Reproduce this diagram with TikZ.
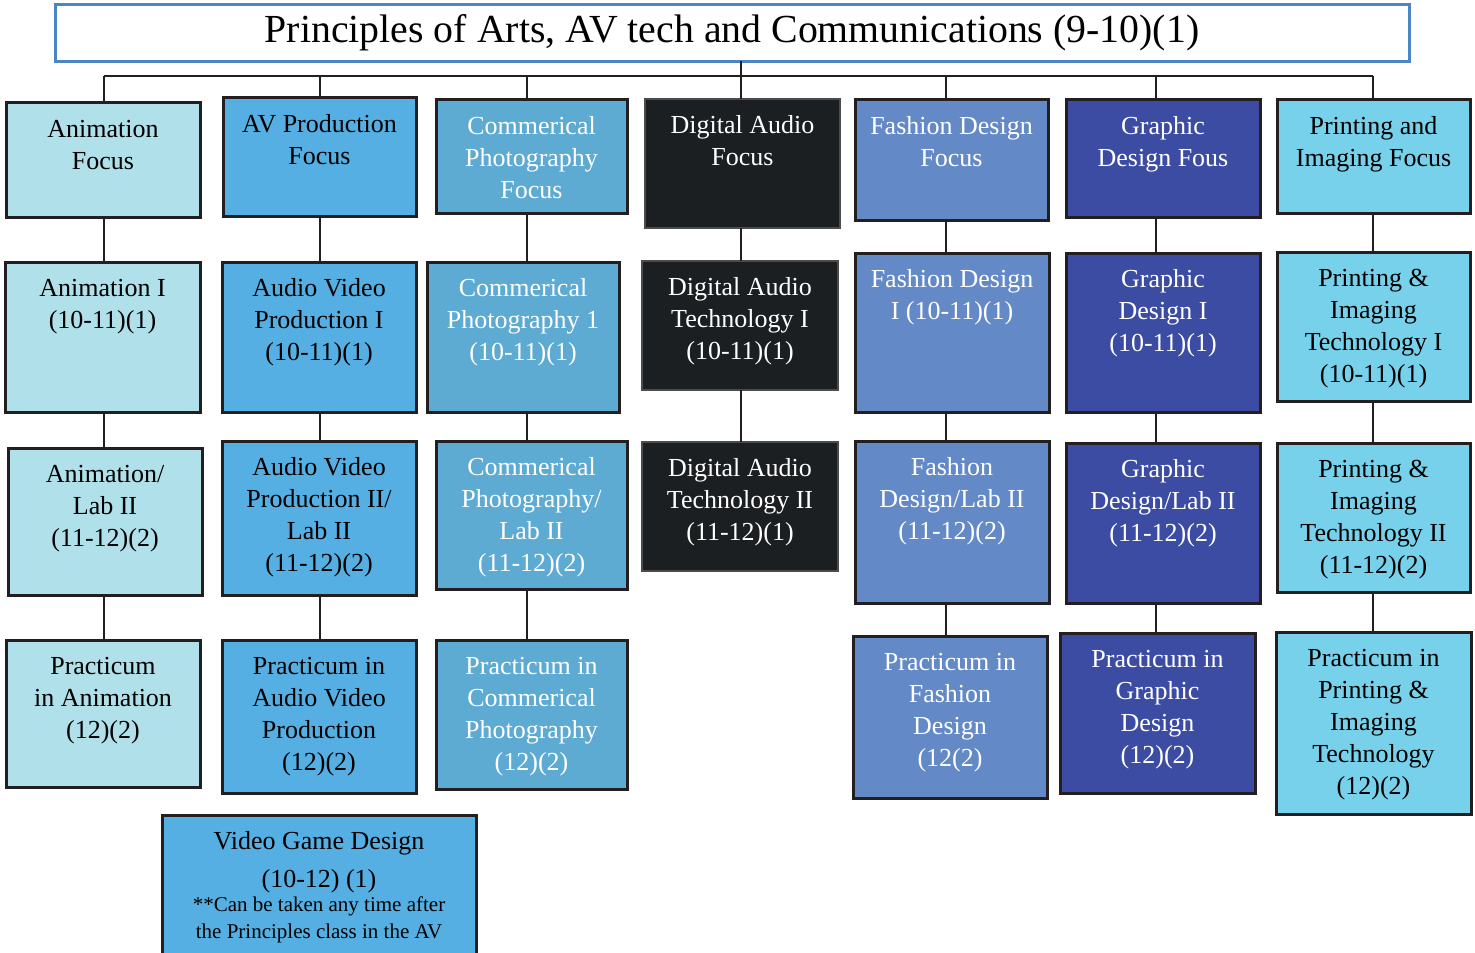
\documentclass[tikz,border=0pt]{standalone}
\usepackage{fontspec}
\setmainfont{Liberation Serif}
\definecolor{cAnim}{HTML}{B0E0EA}
\definecolor{cAV}{HTML}{55AFE2}
\definecolor{cCom}{HTML}{5DAAD3}
\definecolor{cDig}{HTML}{1B1F21}
\definecolor{cFas}{HTML}{6389C6}
\definecolor{cGra}{HTML}{3C4CA3}
\definecolor{cPri}{HTML}{77D1EB}
\definecolor{cLine}{HTML}{231F20}
\definecolor{cTitle}{HTML}{4A86C6}
\newcommand\cbox[8]{%
  \pgfmathsetmacro\myBW{(#4-#2)*0.5}%
  \pgfmathsetmacro\myBH{(#5-#3)*0.5}%
  \node[boxst, #6, minimum width=\myBW pt, minimum height=\myBH pt] (#1) at ({(#2+#4)/2},{(#3+#5)/2}) {};%
  \node[txtst, text=#7] (#1t) at ([yshift=-6pt]#1.north) {\strut #8};%
}
\begin{document}
\begin{tikzpicture}[x=0.5pt,y=-0.5pt,
  boxst/.style={draw=cLine, line width=1.5pt, inner sep=0pt, outer sep=0pt},
  txtst/.style={anchor=north, align=center, inner sep=0pt, font=\fontsize{13}{16}\selectfont},
  conn/.style={draw=cLine, line width=1.4pt},
  digst/.style={fill=cDig, draw=gray!60!black, line width=0.6pt}]
\clip (0,0) rectangle (1475,952);
\fill[white] (0,0) rectangle (1475,952);

% column coordinates
\coordinate (k1) at (104,0);
\coordinate (k2) at (320,0);
\coordinate (k3) at (527,0);
\coordinate (k4) at (741,0);
\coordinate (k5) at (946,0);
\coordinate (k6) at (1156,0);
\coordinate (k7) at (1373,0);
\coordinate (busL) at (104,76);
\coordinate (busR) at (1373,76);

% title
\node[draw=cTitle, line width=1.5pt, fill=white, inner sep=0pt, outer sep=0pt,
      minimum width=677pt, minimum height=28.5pt,
      font=\fontsize{19.9}{23}\selectfont] (title) at (732,33)
      {\raisebox{-1pt}{Principles of Arts, AV tech and Communications (9-10)(1)}};

% column 1
\cbox{af}{6}{103}{200}{217}{fill=cAnim}{black}{Animation\\Focus}
\cbox{aa}{5}{262}{200}{412}{fill=cAnim}{black}{Animation I\\(10-11)(1)}
\cbox{ab}{8}{448}{202}{595}{fill=cAnim}{black}{Animation/\\Lab II\\(11-12)(2)}
\cbox{ap}{6}{640}{200}{787}{fill=cAnim}{black}{Practicum\\in Animation\\(12)(2)}
% column 2
\cbox{vf}{223}{98}{416}{216}{fill=cAV}{black}{AV Production\\Focus}
\cbox{va}{222}{262}{416}{412}{fill=cAV}{black}{Audio Video\\Production I\\(10-11)(1)}
\cbox{vb}{222}{441}{416}{595}{fill=cAV}{black}{Audio Video\\Production II/\\Lab II\\(11-12)(2)}
\cbox{vp}{222}{640}{416}{793}{fill=cAV}{black}{Practicum in\\Audio Video\\Production\\(12)(2)}
\node[boxst, fill=cAV, minimum width=157pt, minimum height=90pt] (vg) at (319,905) {};
\node[txtst] (vgt) at ([yshift=-6pt]vg.north) {\strut Video Game Design\\[3pt](10-12) (1)};
\node[txtst, font=\fontsize{10.5}{13.5}\selectfont] (vgn) at ([yshift=1pt]vgt.south)
  {\strut **Can be taken any time after\\the Principles class in the AV};
% column 3
\cbox{cf}{436}{100}{627}{213}{fill=cCom}{white}{Commerical\\Photography\\Focus}
\cbox{ca}{427}{262}{619}{412}{fill=cCom}{white}{Commerical\\Photography 1\\(10-11)(1)}
\cbox{cb}{436}{441}{627}{589}{fill=cCom}{white}{Commerical\\Photography/\\Lab II\\(11-12)(2)}
\cbox{cp}{436}{640}{627}{789}{fill=cCom}{white}{Practicum in\\Commerical\\Photography\\(12)(2)}
% column 4
\cbox{df}{645}{99}{840}{228}{digst}{white}{Digital Audio\\Focus}
\cbox{da}{642}{261}{838}{390}{digst}{white}{Digital Audio\\Technology I\\(10-11)(1)}
\cbox{db}{642}{442}{838}{571}{digst}{white}{Digital Audio\\Technology II\\(11-12)(1)}
% column 5
\cbox{ff}{855}{100}{1048}{220}{fill=cFas}{white}{Fashion Design\\Focus}
\cbox{fa}{855}{253}{1049}{412}{fill=cFas}{white}{Fashion Design\\I (10-11)(1)}
\cbox{fb}{855}{441}{1049}{603}{fill=cFas}{white}{Fashion\\Design/Lab II\\(11-12)(2)}
\cbox{fp}{853}{636}{1047}{798}{fill=cFas}{white}{Practicum in\\Fashion\\Design\\(12(2)}
% column 6
\cbox{gf}{1066}{100}{1260}{217}{fill=cGra}{white}{Graphic\\Design Fous}
\cbox{ga}{1066}{253}{1260}{412}{fill=cGra}{white}{Graphic\\Design I\\(10-11)(1)}
\cbox{gb}{1066}{443}{1260}{603}{fill=cGra}{white}{Graphic\\Design/Lab II\\(11-12)(2)}
\cbox{gp}{1060}{633}{1255}{793}{fill=cGra}{white}{Practicum in\\Graphic\\Design\\(12)(2)}
% column 7
\cbox{pf}{1277}{100}{1470}{213}{fill=cPri}{black}{Printing and\\Imaging Focus}
\cbox{pa}{1277}{252}{1470}{401}{fill=cPri}{black}{Printing \&\\Imaging\\Technology I\\(10-11)(1)}
\cbox{pb}{1277}{443}{1470}{592}{fill=cPri}{black}{Printing \&\\Imaging\\Technology II\\(11-12)(2)}
\cbox{pp}{1276}{632}{1471}{814}{fill=cPri}{black}{Practicum in\\Printing \&\\Imaging\\Technology\\(12)(2)}

% connectors
\draw[conn] (title.south -| k4) -- (df.north -| k4);
\draw[conn] (busL) -- (busR);
\draw[conn] (k1 |- busL) -- (af.north -| k1);
\draw[conn] (k2 |- busL) -- (vf.north -| k2);
\draw[conn] (k3 |- busL) -- (cf.north -| k3);
\draw[conn] (k5 |- busL) -- (ff.north -| k5);
\draw[conn] (k6 |- busL) -- (gf.north -| k6);
\draw[conn] (k7 |- busL) -- (pf.north -| k7);

\draw[conn] (af.south -| k1) -- (aa.north -| k1);
\draw[conn] (aa.south -| k1) -- (ab.north -| k1);
\draw[conn] (ab.south -| k1) -- (ap.north -| k1);
\draw[conn] (vf.south -| k2) -- (va.north -| k2);
\draw[conn] (va.south -| k2) -- (vb.north -| k2);
\draw[conn] (vb.south -| k2) -- (vp.north -| k2);
\draw[conn] (cf.south -| k3) -- (ca.north -| k3);
\draw[conn] (ca.south -| k3) -- (cb.north -| k3);
\draw[conn] (cb.south -| k3) -- (cp.north -| k3);
\draw[conn] (df.south -| k4) -- (da.north -| k4);
\draw[conn] (da.south -| k4) -- (db.north -| k4);
\draw[conn] (ff.south -| k5) -- (fa.north -| k5);
\draw[conn] (fa.south -| k5) -- (fb.north -| k5);
\draw[conn] (fb.south -| k5) -- (fp.north -| k5);
\draw[conn] (gf.south -| k6) -- (ga.north -| k6);
\draw[conn] (ga.south -| k6) -- (gb.north -| k6);
\draw[conn] (gb.south -| k6) -- (gp.north -| k6);
\draw[conn] (pf.south -| k7) -- (pa.north -| k7);
\draw[conn] (pa.south -| k7) -- (pb.north -| k7);
\draw[conn] (pb.south -| k7) -- (pp.north -| k7);
\end{tikzpicture}
\end{document}
